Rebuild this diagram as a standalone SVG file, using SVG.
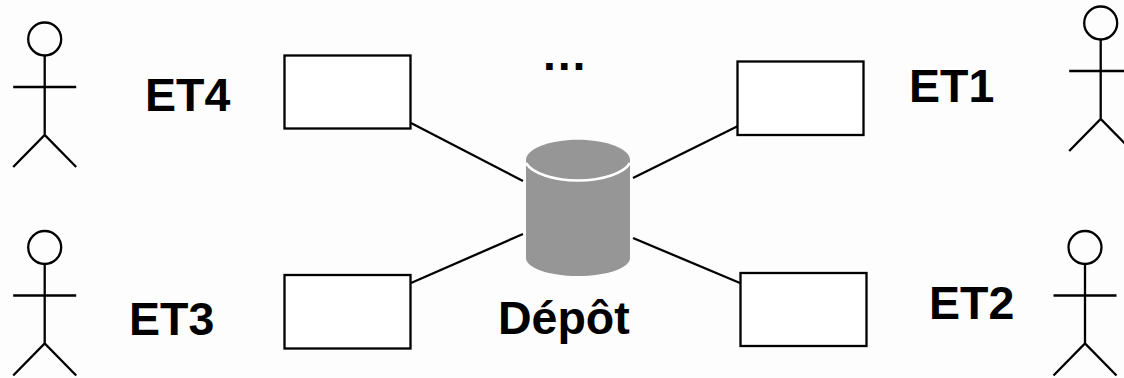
<svg xmlns="http://www.w3.org/2000/svg" width="1124" height="378" viewBox="0 0 1124 378">
<defs>
<style>
.s{fill:none;stroke:#000;stroke-width:2.3}
.c{fill:none;stroke:#000;stroke-width:2.3}
.b{fill:#fff;stroke:#000;stroke-width:2.3}
text{font-family:"Liberation Sans",Arial,sans-serif;font-weight:bold;font-size:46.5px;fill:#000}
</style>
<g id="actor"><circle class="s" cx="0" cy="16" r="16.5"/><path class="s" d="M0 32.5V112M-31.5 64H31.5M-31.5 144L0 112L31.5 144"/></g>
</defs>
<rect width="1124" height="378" fill="#fdfdfd"/>
<g id="connectors">
<line class="c" x1="411" y1="123" x2="523" y2="181"/>
<line class="c" x1="411" y1="283" x2="523" y2="234"/>
<line class="c" x1="633" y1="178" x2="738" y2="126"/>
<line class="c" x1="633" y1="238" x2="740" y2="283"/>
</g>
<g id="actor-et4"><use href="#actor" x="44.7" y="23"/><text x="145" y="110.7">ET4</text></g>
<g id="actor-et3"><use href="#actor" x="44.7" y="231.5"/><text x="129" y="335">ET3</text></g>
<g id="actor-et1"><use href="#actor" x="1100.7" y="7"/><text x="909" y="101.6">ET1</text></g>
<g id="actor-et2"><use href="#actor" x="1085" y="231.5"/><text x="929" y="319">ET2</text></g>
<g id="box-et4"><rect class="b" x="284.5" y="55.5" width="126" height="73"/></g>
<g id="box-et3"><rect class="b" x="284.5" y="275" width="126" height="73.5"/></g>
<g id="box-et1"><rect class="b" x="737.5" y="61.5" width="126" height="73.5"/></g>
<g id="box-et2"><rect class="b" x="740.5" y="273" width="126" height="73"/></g>
<g id="depot">
<path d="M526 160C526 149 549 139.700 578 139.700C607 139.700 630 149 630 160V258C630 268 607 276 578 276C549 276 526 268 526 258Z" fill="#969696"/>
<path d="M526 163C532 173 553 180.500 578 180.500C603 180.500 624 173 630 163" fill="none" stroke="#fff" stroke-width="2.500"/>
<text x="498" y="334">Dépôt</text>
</g>
<text id="dots" x="541" y="70">…</text>
</svg>
